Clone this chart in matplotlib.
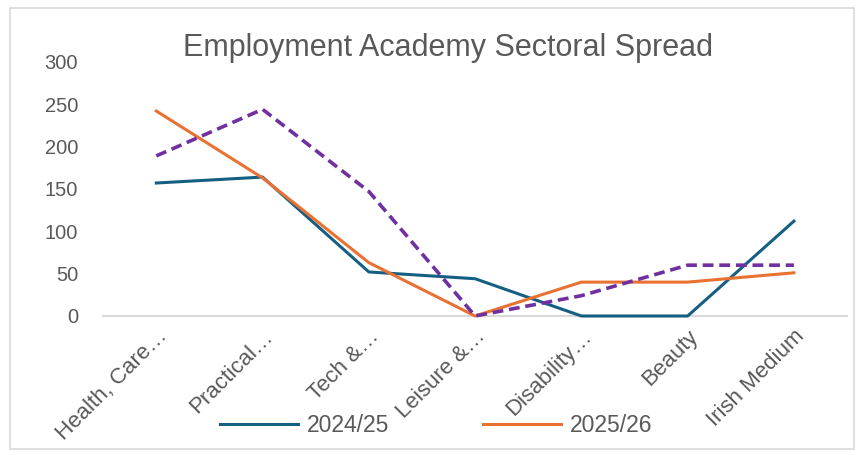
import matplotlib
matplotlib.use("Agg")
import matplotlib.pyplot as plt
from matplotlib import font_manager
from matplotlib.patches import Rectangle

# --- data ---
categories = ["Health, Care…", "Practical…", "Tech &…", "Leisure &…",
              "Disability…", "Beauty", "Irish Medium"]
y2024 = [157, 164, 52, 44, 0, 0, 112]
y2025 = [242, 163, 63, 0, 40, 40, 51]
y_other = [189, 244, 147, 0, 24, 60, 60]   # dashed series, not in legend
yticks = [0, 50, 100, 150, 200, 250, 300]

names = {f.name for f in font_manager.fontManager.ttflist}
narrow = "Liberation Sans Narrow" if "Liberation Sans Narrow" in names else "Liberation Sans"
plt.rcParams["font.family"] = [narrow, "DejaVu Sans"]

grey = "#595959"
fig = plt.figure(figsize=(8.67, 4.55), dpi=100)
ax = fig.add_axes([0.119, 0.3055, 0.858, 0.5585])

x = list(range(len(categories)))
ax.plot(x, y2024, color="#156082", lw=2.2, label="2024/25", zorder=4, clip_on=False)
ax.plot(x, y2025, color="#E97132", lw=2.2, label="2025/26", zorder=4, clip_on=False)
ax.plot(x, y_other, color="#7030A0", lw=2.6, ls=(0, (3, 1.6)), zorder=4, clip_on=False)

ax.set_xlim(-0.5, len(categories) - 0.5)
ax.set_ylim(0, 300)
ax.set_yticks(yticks)
ax.set_xticks(x)
ax.set_xticklabels(categories, rotation=45, ha="right", rotation_mode="anchor",
                   fontsize=16)
ax.tick_params(axis="both", length=0, colors=grey)
ax.tick_params(axis="y", labelsize=14.5, pad=18)
ax.tick_params(axis="x", pad=7)

for s in ["top", "right", "left"]:
    ax.spines[s].set_visible(False)
ax.spines["bottom"].set_color("#d9d9d9")
ax.spines["bottom"].set_linewidth(1.5)
ax.spines["bottom"].set_zorder(1)

fig.text(0.517, 0.895, "Employment Academy Sectoral Spread", ha="center",
         va="center", fontsize=22, color=grey)

fig.legend(loc="center", bbox_to_anchor=(0.503, 0.064), ncol=2, frameon=False,
           fontsize=16.5, labelcolor=grey, handlelength=3.4, handletextpad=0.4,
           columnspacing=4.1)

fig.patches.append(Rectangle((0.011, 0.013), 0.974, 0.97, transform=fig.transFigure,
                             fill=False, edgecolor="#d9d9d9", lw=1.2))

fig.savefig("out.png", dpi=100)
